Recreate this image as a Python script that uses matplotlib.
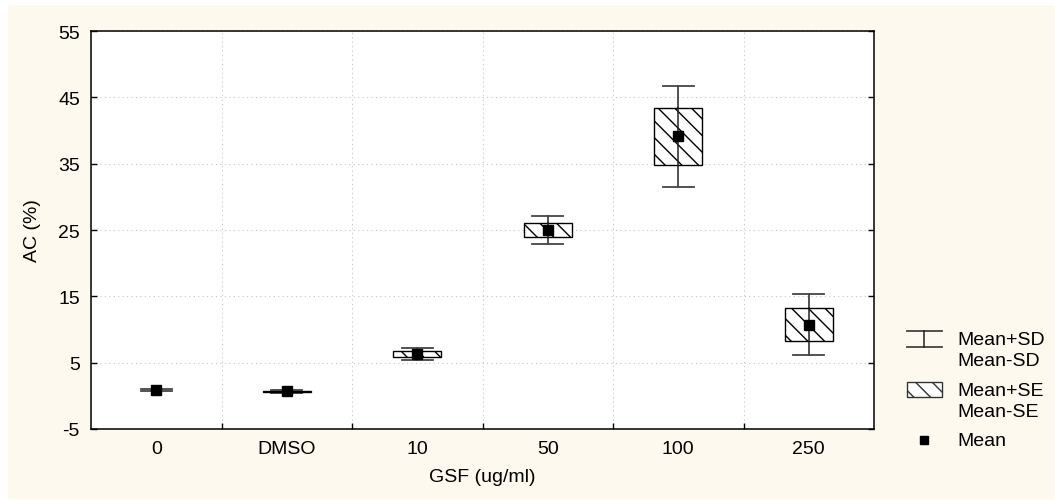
import numpy as np
import matplotlib.pyplot as plt
from matplotlib.patches import Rectangle

plt.rcParams['font.family'] = ['Liberation Sans', 'DejaVu Sans']
plt.rcParams['hatch.linewidth'] = 1.0
plt.rcParams['hatch.color'] = '#333333'

groups = ['0', 'DMSO', '10', '50', '100', '250']
means = [0.9, 0.7, 6.3, 25.0, 39.1, 10.7]
se = [0.0, 0.1, 0.4, 1.1, 4.25, 2.5]
sd = [0.15, 0.25, 0.9, 2.1, 7.6, 4.6]
yticks = [-5, 5, 15, 25, 35, 45, 55]

fs = 14
cream = '#fef9ef'
fig = plt.figure(figsize=(10.55, 5.02), dpi=100)
fig.patch.set_facecolor('white')
fig.add_artist(Rectangle((8 / 1055, 2 / 502), 1, 494 / 502, transform=fig.transFigure,
                         facecolor=cream, edgecolor='none', zorder=-10))

# axes box in pixels: left 91, right 874, top 32, bottom 430
ax = fig.add_axes([91 / 1055, (502 - 430) / 502, (874 - 91) / 1055, (430 - 32) / 502])
ax.set_facecolor('white')

x = np.arange(len(groups))
box_w = 0.37
cap_w = 0.24
for xi, m, s_e, s_d in zip(x, means, se, sd):
    # SD whiskers
    ax.plot([xi, xi], [m - s_d, m + s_d], color='#222222', lw=1.1, zorder=3)
    for yc in (m - s_d, m + s_d):
        ax.plot([xi - cap_w / 2, xi + cap_w / 2], [yc, yc], color='#444444', lw=1.3, zorder=3)
    # SE box (nothing to draw when SE is zero)
    if s_e > 0:
        ax.add_patch(Rectangle((xi - box_w / 2, m - s_e), box_w, 2 * s_e, facecolor='white',
                               edgecolor='black', hatch='\\\\', lw=1.0, zorder=4))
        ax.plot([xi, xi], [m - s_e, m + s_e], color='#222222', lw=1.1, zorder=5)
ax.plot(x, means, 's', color='black', markersize=7, zorder=6)

ax.set_xlim(-0.5, 5.5)
ax.set_ylim(-5, 55)
ax.set_yticks(yticks)
ax.set_yticklabels([str(v) for v in yticks])
ax.set_xticks(x)
ax.set_xticklabels(groups)
ax.set_xticks(np.arange(0.5, 5, 1), minor=True)
ax.tick_params(axis='x', which='major', length=0, pad=8, labelsize=fs)
ax.tick_params(axis='x', which='minor', direction='in', length=4, width=1)
ax.tick_params(axis='y', direction='in', length=4, width=1, left=True, right=True,
               pad=8, labelsize=fs)
ax.grid(True, axis='y', which='major', linestyle=(0, (1, 3)), color='#c4c4c4', lw=0.8)
ax.grid(True, axis='x', which='minor', linestyle=(0, (1, 3)), color='#c4c4c4', lw=0.8)
for sp in ax.spines.values():
    sp.set_linewidth(1.1)

ax.set_xlabel('GSF (ug/ml)', fontsize=fs, labelpad=8)
ax.set_ylabel('AC (%)', fontsize=fs, labelpad=12)

# legend drawn in pixel coordinates
lg = fig.add_axes([0, 0, 1, 1], facecolor='none')
lg.set_xlim(0, 1055)
lg.set_ylim(502, 0)
lg.axis('off')
lg.plot([907, 942], [332, 332], color='#444444', lw=1.3)
lg.plot([907, 942], [348, 348], color='#444444', lw=1.3)
lg.plot([924, 924], [332, 348], color='#222222', lw=1.1)
lg.add_patch(Rectangle((907, 383), 35, 15, facecolor='white', edgecolor='#333333',
                       hatch='\\\\', lw=1.0))
lg.plot([924], [441], 's', color='black', markersize=6)
lg.text(957, 341, 'Mean+SD', fontsize=fs, va='center')
lg.text(957, 362, 'Mean-SD', fontsize=fs, va='center')
lg.text(957, 392, 'Mean+SE', fontsize=fs, va='center')
lg.text(957, 413, 'Mean-SE', fontsize=fs, va='center')
lg.text(957, 442, 'Mean', fontsize=fs, va='center')

fig.savefig('out.png', dpi=100, facecolor='white')
